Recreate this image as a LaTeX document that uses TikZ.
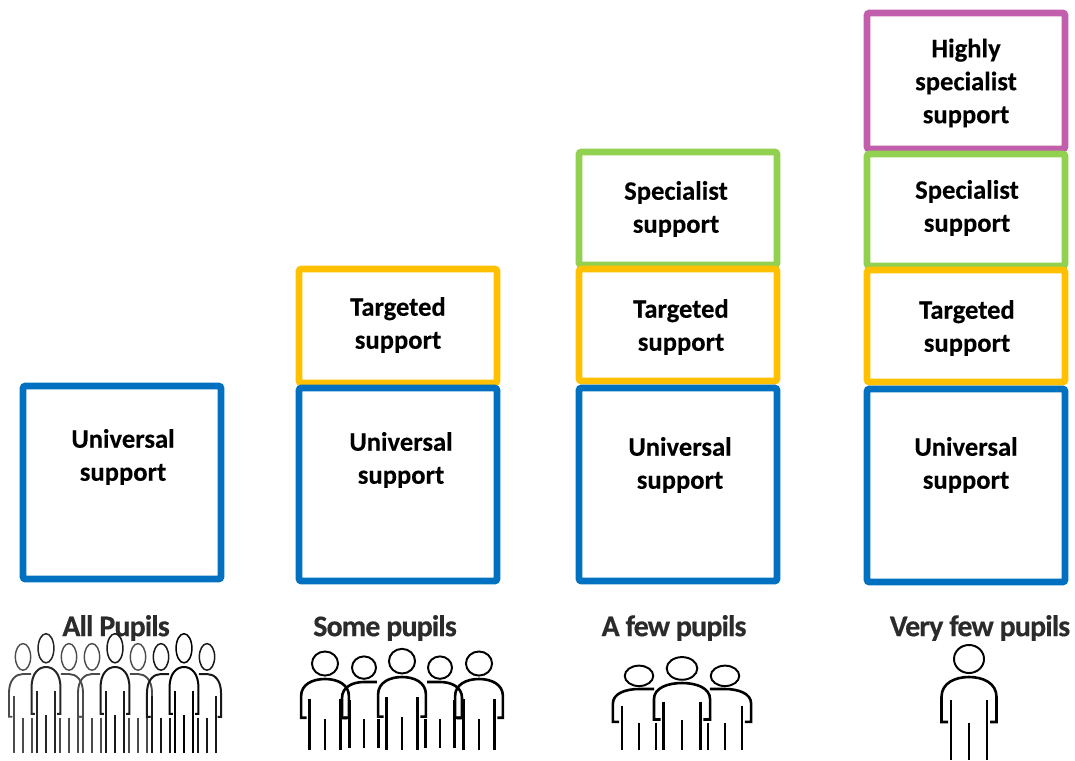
\documentclass[tikz,border=0pt]{standalone}
\usepackage{fontspec}
\setmainfont{Carlito}
\definecolor{ublue}{HTML}{0070C0}
\definecolor{tgold}{HTML}{FFC000}
\definecolor{sgreen}{HTML}{92D050}
\definecolor{hpurple}{HTML}{C25FAC}
\definecolor{lab}{HTML}{2B2B2B}
\tikzset{
  tier/.style={draw=#1,line width=6.8pt,rounded corners=2.5pt,fill=none,outer sep=0pt,inner sep=0pt},
  tiertext/.style={font=\bfseries\fontsize{26.6}{33}\selectfont\addfontfeature{FakeBold=0.25},align=center,text=black,inner sep=0pt},
  grouplabel/.style={font=\bfseries\fontsize{30}{32}\selectfont\addfontfeature{LetterSpace=-3,FakeBold=0.4},text=lab,inner sep=0pt},
}
\newcommand{\figF}[6]{\begin{scope}[shift={(#1,#2)},xscale=#3,yscale=#4]
  \draw[#6,line width=0.75*#5pt] (0,-18) ellipse [x radius=15,y radius=14];
  \draw[#6,line width=#5pt] (-21,45) -- (-27.5,45) -- (-27.5,20) .. controls (-27.5,6) and (-14,0) .. (0,0) .. controls (14,0) and (27.5,6) .. (27.5,20) -- (27.5,45) -- (21,45);
  \draw[#6,line width=#5pt] (-18,23) -- (-18,83) (18,23) -- (18,83) (0,46) -- (0,83);
\end{scope}}
\newcommand{\figL}[6]{\begin{scope}[shift={(#1,#2)},xscale=#3,yscale=#4]
  \draw[#6,line width=0.75*#5pt] (0,-18) ellipse [x radius=15,y radius=14];
  \draw[#6,line width=#5pt] (-21,45) -- (-27.5,45) -- (-27.5,20) .. controls (-27.5,6) and (-14,0) .. (0,0) -- (16,0);
  \draw[#6,line width=#5pt] (-18,23) -- (-18,83) (18,46) -- (18,83) (0,46) -- (0,83);
\end{scope}}
\newcommand{\figR}[6]{\begin{scope}[shift={(#1,#2)},xscale=#3,yscale=#4]
  \draw[#6,line width=0.75*#5pt] (0,-18) ellipse [x radius=15,y radius=14];
  \draw[#6,line width=#5pt] (21,45) -- (27.5,45) -- (27.5,20) .. controls (27.5,6) and (14,0) .. (0,0) -- (-16,0);
  \draw[#6,line width=#5pt] (18,23) -- (18,83) (-18,46) -- (-18,83) (0,46) -- (0,83);
\end{scope}}
\begin{document}
\begin{tikzpicture}[x=1pt,y=-1pt]
\useasboundingbox (0,0) rectangle (1075,760);
% tiers
\node[tier=ublue,minimum width=198pt,minimum height=193pt,anchor=north west] (u1) at (23,386) {};
\node[tier=tgold,minimum width=198pt,minimum height=114pt,anchor=north west] (t2) at (299,269) {};
\node[tier=ublue,minimum width=198pt,minimum height=193pt,anchor=north west] (u2) at (299,388) {};
\node[tier=sgreen,minimum width=198pt,minimum height=113pt,anchor=north west] (s3) at (579,152) {};
\node[tier=tgold,minimum width=198pt,minimum height=112pt,anchor=north west] (t3) at (579,269) {};
\node[tier=ublue,minimum width=198pt,minimum height=193pt,anchor=north west] (u3) at (579,388) {};
\node[tier=hpurple,minimum width=198pt,minimum height=136pt,anchor=north west] (h4) at (867,13) {};
\node[tier=sgreen,minimum width=198pt,minimum height=112pt,anchor=north west] (s4) at (867,154) {};
\node[tier=tgold,minimum width=198pt,minimum height=112pt,anchor=north west] (t4) at (867,270) {};
\node[tier=ublue,minimum width=198pt,minimum height=193pt,anchor=north west] (u4) at (867,389) {};
% tier texts
\node[tiertext] (ut1) at (123,457) {Universal\\support};
\node[tiertext] (tt2) at (398,325) {Targeted\\support};
\node[tiertext] (ut2) at (401,460) {Universal\\support};
\node[tiertext] (st3) at (676,209) {Specialist\\support};
\node[tiertext] (tt3) at (681,327) {Targeted\\support};
\node[tiertext] (ut3) at (680,465) {Universal\\support};
\node[tiertext] (ht4) at (966,83) {Highly\\specialist\\support};
\node[tiertext] (st4) at (967,208) {Specialist\\support};
\node[tiertext] (tt4) at (967,328) {Targeted\\support};
\node[tiertext] (ut4) at (966,465) {Universal\\support};
% group labels
\node[grouplabel] (g1) at (116,628) {All Pupils};
\node[grouplabel] (g2) at (385,628) {Some pupils};
\node[grouplabel] (g3) at (674,628) {A few pupils};
\node[grouplabel] (g4) at (980,628) {Very few pupils};
% all pupils
\figL{23}{674}{.51}{.95}{1.9}{black!70}
\figR{69}{674}{.51}{.95}{1.9}{black!70}
\figL{92}{674}{.51}{.95}{1.9}{black!70}
\figR{138}{674}{.51}{.95}{1.9}{black!70}
\figL{161}{674}{.51}{.95}{2}{black!90}
\figR{207}{674}{.51}{.95}{2}{black!90}
\figF{46}{667}{.527}{1.04}{2}{black!85}
\figF{115}{667}{.527}{1.04}{2}{black!90}
\figF{184}{667}{.527}{1.04}{2}{black}
% some pupils
\figL{364}{682}{.8}{.8}{2.6}{black}
\figR{440}{682}{.8}{.8}{2.6}{black}
\figF{325}{679}{.87}{.86}{2.6}{black}
\figF{402}{677}{.87}{.88}{2.6}{black}
\figF{479}{679}{.87}{.86}{2.6}{black}
% a few pupils
\figL{639}{689}{.95}{.73}{2.6}{black}
\figR{725}{689}{.95}{.73}{2.6}{black}
\figF{682}{683}{1.02}{.81}{2.6}{black}
% very few
\figF{969}{677}{1}{1}{2.6}{black}
\end{tikzpicture}
\end{document}
